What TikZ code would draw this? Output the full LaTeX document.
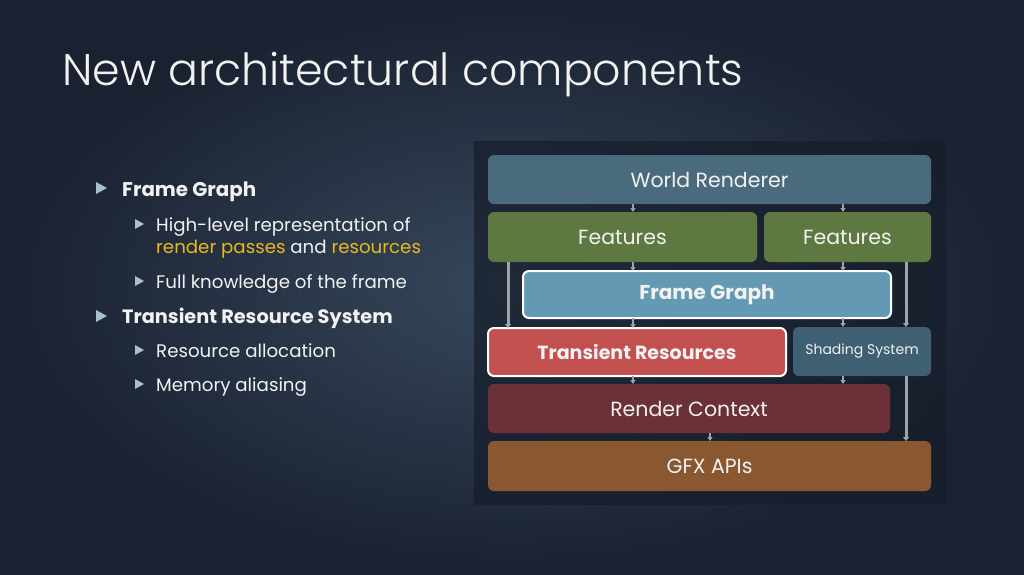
\documentclass[tikz,border=0pt]{standalone}
\usepackage{fontspec}
\setmainfont{Poppins}
\newfontfamily\titlefont{Poppins Light}
\usetikzlibrary{arrows.meta}
\definecolor{bgbase}{HTML}{1A2131}
\definecolor{bgglow}{HTML}{36485B}
\definecolor{panelc}{HTML}{161D2A}
\definecolor{wrc}{HTML}{4A6A7E}
\definecolor{featc}{HTML}{5D7840}
\definecolor{fgc}{HTML}{6399B2}
\definecolor{trc}{HTML}{C2504E}
\definecolor{shc}{HTML}{3F5F72}
\definecolor{rcc}{HTML}{6C3038}
\definecolor{gfxc}{HTML}{8A5830}
\definecolor{arrc}{HTML}{9EA3A8}
\definecolor{bulc}{HTML}{A7C0CC}
\definecolor{hlc}{HTML}{E8B820}
\definecolor{txtc}{HTML}{F2F2F2}
\tikzset{
  layer/.style={rounded corners=6pt, inner sep=0pt, text=txtc, font=\fontsize{20.5}{24}\selectfont},
  hotlabel/.style={layer, font=\fontsize{19.5}{23}\selectfont\bfseries},
  flow/.style={draw=arrc, line width=2pt, -{Triangle[length=4pt,width=5pt]}},
  longflow/.style={draw=arrc, line width=3pt, -{Triangle[length=4pt,width=6pt]}},
  bul/.style={fill=bulc},
  btext/.style={anchor=base west, text=txtc, inner sep=0pt},
  mainb/.style={btext, font=\fontsize{19.8}{23}\selectfont\bfseries},
  subb/.style={btext, font=\fontsize{18.2}{21}\selectfont},
}
\begin{document}
\begin{tikzpicture}[x=1pt,y=-1pt]
\useasboundingbox (0,0) rectangle (1024,574);
% background
\fill[bgbase] (0,0) rectangle (1024,574);
\fill[inner color=bgglow, outer color=bgbase] (0,0) rectangle (1024,574);
% title
\node[btext, font=\titlefont\fontsize{44.3}{50}\selectfont] (title) at (62,85) {New architectural components};
% panel
\fill[panelc, opacity=0.7] (474,141) rectangle (946,505);
% layers
\path[layer, fill=wrc] (488,155) rectangle (931,204);
\node[layer] (wr) at (709.5,179.5) {World Renderer};
\path[layer, fill=featc] (488,212) rectangle (757,262);
\node[layer] (fl) at (622.5,237) {Features};
\path[layer, fill=featc] (764,212) rectangle (931,262);
\node[layer] (fr) at (847.5,237) {Features};
\path[layer, fill=fgc, draw=white, line width=2pt] (523,271) rectangle (891,318);
\node[hotlabel, font=\fontsize{20}{23}\selectfont\bfseries] (fg) at (707,294.5) {Frame Graph};
\path[layer, fill=trc, draw=white, line width=2pt] (488,328) rectangle (786,376);
\node[hotlabel, font=\fontsize{19}{23}\selectfont\bfseries] (tr) at (637,352) {Transient Resources};
\path[layer, fill=shc] (793,327) rectangle (931,376);
\node[layer, font=\fontsize{14}{17}\selectfont] (sh) at (862,351.5) {Shading System};
\path[layer, fill=rcc] (488,384) rectangle (890,433);
\node[layer] (rc) at (689,408.5) {Render Context};
\path[layer, fill=gfxc] (488,441) rectangle (931,491);
\node[layer] (gfx) at (709.5,466) {GFX APIs};
% anchor coordinates on box edges
\coordinate (wrb1) at (633,204); \coordinate (wrb2) at (843,204);
\coordinate (flt) at (633,212); \coordinate (frt) at (843,212);
\coordinate (flb) at (633,262); \coordinate (frb) at (843,262);
\coordinate (fgt1) at (633,271); \coordinate (fgt2) at (843,271);
\coordinate (fgb1) at (633,318); \coordinate (fgb2) at (843,318);
\coordinate (trt) at (633,328); \coordinate (sht) at (843,327);
\coordinate (trb) at (633,376); \coordinate (shb) at (843,376);
\coordinate (rct1) at (633,384); \coordinate (rct2) at (843,384);
\coordinate (rcb) at (710,433); \coordinate (gfxt) at (710,441);
\coordinate (fll) at (508,262); \coordinate (trl) at (508,328);
\coordinate (frr) at (906,262); \coordinate (shr) at (906,327);
\coordinate (shr2) at (906,376); \coordinate (gfxr) at (906,441);
% connectors
\draw[flow] (wrb1) -- (flt);
\draw[flow] (wrb2) -- (frt);
\draw[flow] (flb) -- (fgt1);
\draw[flow] (frb) -- (fgt2);
\draw[flow] (fgb1) -- (trt);
\draw[flow] (fgb2) -- (sht);
\draw[flow] (trb) -- (rct1);
\draw[flow] (shb) -- (rct2);
\draw[flow] (rcb) -- (gfxt);
\draw[longflow] (fll) -- (trl);
\draw[longflow] (frr) -- (shr);
\draw[longflow] (shr2) -- (gfxr);
% bullets
\fill[bul] (96,182) -- (107,188) -- (96,194) -- cycle;
\fill[bul] (96,310) -- (107,316) -- (96,322) -- cycle;
\fill[bul] (135,219) -- (144,224) -- (135,229) -- cycle;
\fill[bul] (135,276) -- (144,281) -- (135,286) -- cycle;
\fill[bul] (135,345) -- (144,350) -- (135,355) -- cycle;
\fill[bul] (135,379) -- (144,384) -- (135,389) -- cycle;
\node[mainb] (b1) at (122,196) {Frame Graph};
\node[subb] (s1) at (156,231) {High-level representation of};
\node[subb] (s1b) at (156,253) {\textcolor{hlc}{render passes} and \textcolor{hlc}{resources}};
\node[subb] (s2) at (156,288) {Full knowledge of the frame};
\node[mainb, font=\fontsize{19.3}{23}\selectfont\bfseries] (b2) at (122,323) {Transient Resource System};
\node[subb] (s3) at (156,357) {Resource allocation};
\node[subb] (s4) at (156,391) {Memory aliasing};
\end{tikzpicture}
\end{document}
